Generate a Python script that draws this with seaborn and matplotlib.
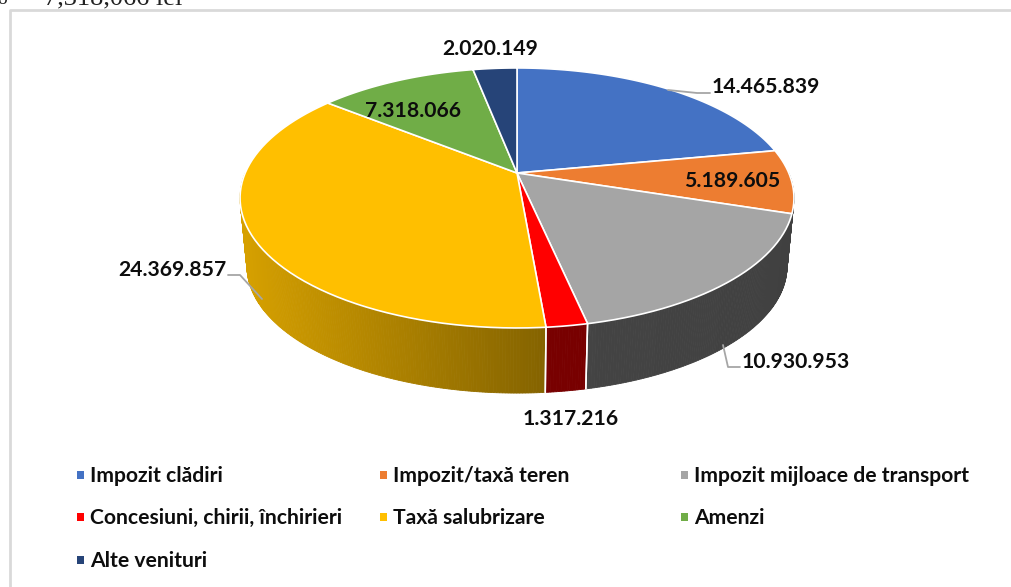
import numpy as np
import matplotlib
matplotlib.use("Agg")
import matplotlib.pyplot as plt
import matplotlib.transforms as mtransforms
from matplotlib.patches import Polygon, Rectangle
from matplotlib.path import Path
import seaborn as sns

categories = ["Impozit clădiri", "Impozit/taxă teren", "Impozit mijloace de transport",
              "Concesiuni, chirii, închirieri", "Taxă salubrizare", "Amenzi", "Alte venituri"]
values = [14465839, 5189605, 10930953, 1317216, 24369857, 7318066, 2020149]
colors = ["#4472C4", "#ED7D31", "#A5A5A5", "#FF0000", "#FFBF00", "#70AD47", "#264478"]

# side shade at the left and right end of the wall, one pair per slice
side_shade = [(0.5, 0.5), (0.41, 0.39), (0.41, 0.39), (0.47, 0.47), (0.84, 0.52), (0.5, 0.5), (0.5, 0.5)]

# label centres and leader lines, in image pixels
label_pos = [(766, 87), (732, 181), (796, 362), (571, 419), (172, 270), (413, 111), (490, 49)]
leaders = [[(668, 90), (697, 93), (710, 93)],
           [(723, 345), (728, 367), (740, 367)],
           [(228, 275), (240, 275), (262, 299)]]

sns.set_theme(style="white")
plt.rcParams["font.family"] = ["Lato", "DejaVu Sans"]
palette = sns.color_palette(colors)

# perspective of the tilted disc, fitted on the picture
K = 0.192
A, B = 271.8, 125.2
CX, CY = 517, 173
SCALE_LOW, CY_LOW = 0.975, 242


def project(x, y, scale=1.0, cy=CY):
    w = 1 + K * y
    return CX + scale * A * x / w, cy - scale * B * y / w


class Tilt(mtransforms.Transform):
    input_dims = 2
    output_dims = 2
    has_inverse = False

    def transform_non_affine(self, xy):
        xy = np.asarray(xy, dtype=float)
        return np.column_stack(project(xy[:, 0], xy[:, 1]))

    def transform_path_non_affine(self, path):
        poly = path.to_polygons(mtransforms.Affine2D().scale(1000), closed_only=False)[0] / 1000
        return Path(self.transform_non_affine(poly))


fig = plt.figure(figsize=(10.11, 5.87), dpi=100)
ax = fig.add_axes([0, 0, 1, 1])

# pie first, the disc angles come from it
wedges, _ = ax.pie(values, startangle=90, counterclock=False,
                   colors=palette, wedgeprops=dict(edgecolor="white", linewidth=1.2))
ax.set_aspect("auto")
ax.set_xlim(0, 1011)
ax.set_ylim(587, 0)
ax.axis("off")
tilt = Tilt() + ax.transData
for w in wedges:
    w.set_transform(tilt)
    w.set_zorder(5)

# side wall, drawn as thin strips between upper and lower rim
edges = np.concatenate([[0], np.cumsum(values) / np.sum(values) * 360])
for i in range(len(values)):
    t1, t2 = max(edges[i], 90), min(edges[i + 1], 270)
    if t2 <= t1:
        continue
    tt = np.radians(np.linspace(t1, t2, int((t2 - t1) * 2) + 2))
    x, y = np.sin(tt), np.cos(tt)
    xa, ya = project(x, y)
    xb, yb = project(x, y, SCALE_LOW, CY_LOW)
    # grey wall is the base for the sliver of the next slice too
    rgb = np.array(palette[2] if i == 1 else palette[i])
    left, right = side_shade[i]
    for j in range(len(tt) - 1):
        pos = (xa[j] - xa.min()) / max(xa.max() - xa.min(), 1)
        col = tuple(rgb * (left + (right - left) * pos))
        ax.add_patch(Polygon([(xa[j], ya[j]), (xa[j + 1], ya[j + 1]), (xb[j + 1], yb[j + 1]), (xb[j], yb[j])],
                             facecolor=col, edgecolor=col, linewidth=0.6, zorder=2))
    # white seams between slices, only on the front of the wall
    for t in (t1, t2):
        if 120 < t < 240:
            r = np.radians(t)
            xs, ys = project(np.sin(r), np.cos(r))
            xe, ye = project(np.sin(r), np.cos(r), SCALE_LOW, CY_LOW)
            ax.plot([xs, xe], [ys, ye], color="white", lw=1.1, zorder=3)

# leader lines
for pts in leaders:
    ax.plot(*zip(*pts), color="#A6A6A6", lw=1.3, zorder=6)

# value labels
for v, (lx, ly) in zip(values, label_pos):
    ax.text(lx, ly, f"{v:,}".replace(",", "."), ha="center", va="center",
            fontsize=15.2, fontweight="bold", color="#0D0D0D", zorder=7)

# legend laid out as in the picture
col_x = [90, 393, 694]
row_y = [476, 518, 561]
for i, name in enumerate(categories):
    tx, ty = col_x[i % 3], row_y[i // 3]
    ax.add_patch(Rectangle((tx - 13, ty - 5), 7, 8, facecolor=palette[i], edgecolor="none"))
    ax.text(tx, ty, name, ha="left", va="center", fontsize=15.2, fontweight="bold", color="#0D0D0D")

# chart frame, cut by the picture on the right and at the bottom
ax.plot([1011, 9.5, 9.5], [9.5, 9.5, 587], color="#D9D9D9", lw=2, zorder=1)

# end of the text line above the chart, cut off at the top
ax.text(44, 4, "7,318,066 lei", family="Liberation Serif", fontsize=19, color="#222222", va="baseline")
ax.text(-3, 4, "o", family="Liberation Serif", fontsize=14, color="#222222", va="baseline")

fig.savefig("out.png", dpi=100)
